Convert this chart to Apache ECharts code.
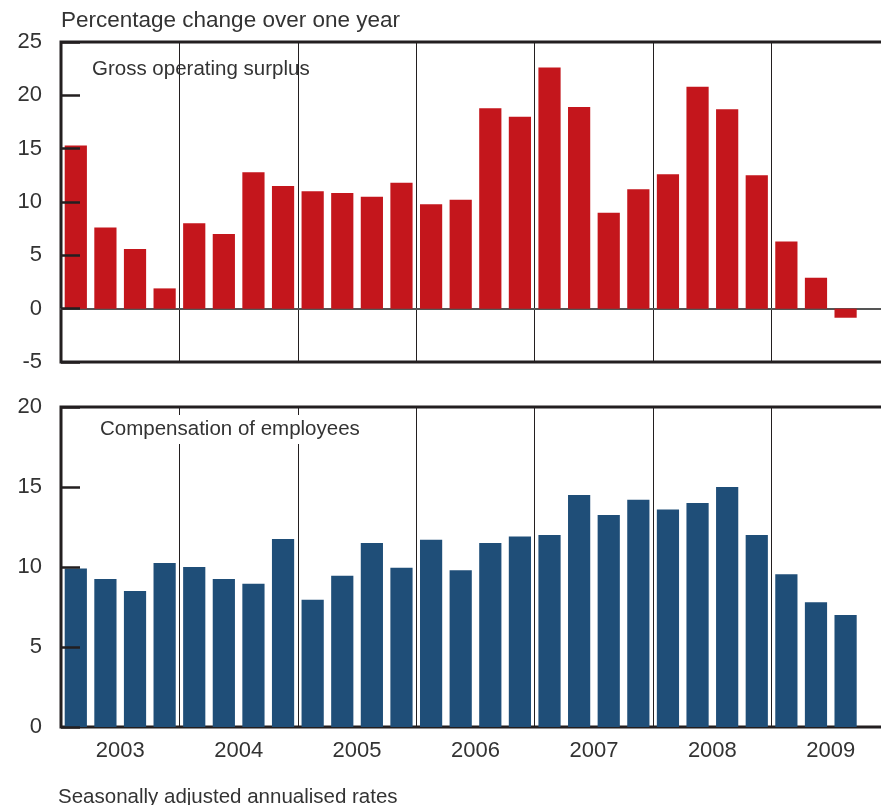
<!DOCTYPE html>
<html>
<head>
<meta charset="utf-8">
<script src="https://cdn.jsdelivr.net/npm/echarts@6/dist/echarts.min.js"></script>
<style>
  html, body { margin: 0; padding: 0; background: #fff; }
  #chart { width: 881px; height: 805px; }
</style>
</head>
<body>
<div id="chart"></div>
<script>
// quarters 2003 Q1 .. 2009 Q4 (last quarter has no data yet)
const quarters = [];
const years = ["2003", "2004", "2005", "2006", "2007", "2008", "2009"];
years.forEach(function (y) {
  ["Q1", "Q2", "Q3", "Q4"].forEach(function (q) {
    quarters.push(y + " " + q);
  });
});

const grossSurplus = [
  15.3, 7.6, 5.6, 1.9,
  8.0, 7.0, 12.8, 11.5,
  11.0, 10.85, 10.5, 11.8,
  9.8, 10.2, 18.8, 18.0,
  22.6, 18.9, 9.0, 11.2,
  12.6, 20.8, 18.7, 12.5,
  6.3, 2.9, -0.85, "-"
];

const compensation = [
  9.9, 9.25, 8.5, 10.25,
  10.0, 9.25, 8.95, 11.75,
  7.95, 9.45, 11.5, 9.95,
  11.7, 9.8, 11.5, 11.9,
  12.0, 14.5, 13.25, 14.2,
  13.6, 14.0, 15.0, 12.0,
  9.55, 7.8, 7.0, "-"
];

const topTicks = { min: -5, max: 25, interval: 5 };
const bottomTicks = { min: 0, max: 20, interval: 5 };

const textColor = "#333";
const frameColor = "#231f20";
const fontFamily = "Liberation Sans, Arial, sans-serif";

const chart = echarts.init(document.getElementById("chart"));

function valueAxis(gridIndex, ticks) {
  return {
    type: "value",
    gridIndex: gridIndex,
    min: ticks.min,
    max: ticks.max,
    interval: ticks.interval,
    z: 3,
    axisLine: { show: false },
    axisTick: {
      show: true,
      inside: true,
      length: 19,
      lineStyle: { color: frameColor, width: 2.5 },
    },
    axisLabel: {
      color: textColor,
      fontSize: 22,
      fontFamily: fontFamily,
      margin: 19,
    },
    splitLine: { show: false },
  };
}

function quarterAxis(gridIndex, showLine) {
  return {
    type: "category",
    gridIndex: gridIndex,
    data: quarters,
    boundaryGap: true,
    axisLine: {
      show: showLine,
      onZero: true,
      lineStyle: { color: "#555", width: 2 },
    },
    axisTick: { show: false },
    axisLabel: { show: false },
    splitLine: {
      show: true,
      interval: 3,
      lineStyle: { color: frameColor, width: 1 },
    },
  };
}

const titleText = function (size) {
  return { color: textColor, fontSize: size, fontWeight: "normal", fontFamily: fontFamily };
};

const option = {
  animation: false,
  backgroundColor: "#fff",
  textStyle: { fontFamily: fontFamily },
  title: [
    {
      text: "Percentage change over one year",
      left: 61,
      top: 9,
      padding: 0,
      textStyle: titleText(22.5),
    },
    {
      text: "Gross operating surplus",
      left: 92,
      top: 59,
      padding: 0,
      textStyle: titleText(20.5),
    },
    {
      text: "Compensation of employees",
      left: 96,
      top: 415,
      backgroundColor: "#fff",
      padding: [4, 4],
      textStyle: titleText(20.5),
    },
    {
      text: "Seasonally adjusted annualised rates",
      left: 58,
      top: 787,
      padding: 0,
      textStyle: titleText(20.5),
    },
  ],
  grid: [
    {
      left: 61,
      top: 42,
      width: 829,
      height: 320,
      outerBoundsMode: "none",
      show: true,
      borderWidth: 3,
      borderColor: frameColor,
      backgroundColor: "transparent",
    },
    {
      left: 61,
      top: 407,
      width: 829,
      height: 320,
      outerBoundsMode: "none",
      show: true,
      borderWidth: 3,
      borderColor: frameColor,
      backgroundColor: "transparent",
    },
  ],
  xAxis: [
    quarterAxis(0, true),
    quarterAxis(1, false),
    {
      type: "category",
      gridIndex: 1,
      data: years,
      position: "bottom",
      axisLine: { show: false },
      axisTick: { show: false },
      splitLine: { show: false },
      axisLabel: {
        color: textColor,
        fontSize: 22,
        fontFamily: fontFamily,
        margin: 13,
      },
    },
  ],
  yAxis: [valueAxis(0, topTicks), valueAxis(1, bottomTicks)],
  series: [
    {
      name: "Gross operating surplus",
      type: "bar",
      xAxisIndex: 0,
      yAxisIndex: 0,
      data: grossSurplus,
      barCategoryGap: "25%",
      itemStyle: { color: "#c4161c" },
    },
    {
      name: "Compensation of employees",
      type: "bar",
      xAxisIndex: 1,
      yAxisIndex: 1,
      data: compensation,
      barCategoryGap: "25%",
      itemStyle: { color: "#1f4e78" },
    },
  ],
};

chart.setOption(option);
</script>
</body>
</html>
